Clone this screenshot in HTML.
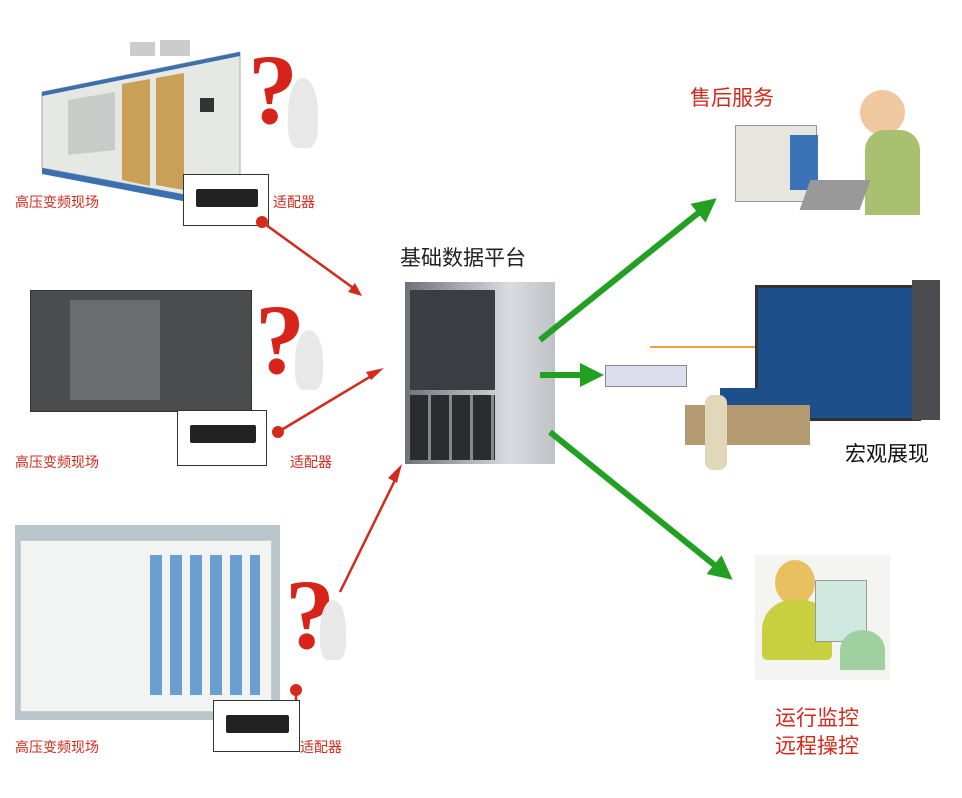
<!DOCTYPE html>
<html><head><meta charset="utf-8">
<style>
body{margin:0;width:962px;height:798px;background:#fff;position:relative;overflow:hidden;font-family:"Liberation Sans","Noto Sans CJK SC",sans-serif}
.a{position:absolute}
.t{position:absolute;color:#d42a1c;font-size:14px;white-space:nowrap}
.big{font-size:21px}
.ad{position:absolute;border:1px solid #333;background:#fff}
.ad div{position:absolute;left:12px;right:10px;top:14px;height:18px;background:#222;border-radius:2px}
.q{position:absolute;color:#d8231a;font-weight:bold;font-family:"Liberation Serif",serif}
.man{position:absolute;background:#e8e8e8;border-radius:50% 50% 30% 30%}
</style></head><body>
<!-- cabinet 1 -->
<svg class="a" style="left:0;top:0" width="330" height="230">
<polygon points="42,92 240,52 240,205 42,168" fill="#e6e8e4" stroke="#aaa"/>
<polygon points="42,168 240,205 240,212 42,174" fill="#3a6fb0"/>
<polygon points="42,92 240,52 240,56 42,96" fill="#3a6fb0"/>
<polygon points="122,84 150,79 150,186 122,180" fill="#c9a055"/>
<polygon points="156,78 184,73 184,190 156,185" fill="#c9a055"/>
<polygon points="68,100 115,92 115,150 68,155" fill="#c8ccc8"/>
<rect x="130" y="42" width="25" height="14" fill="#ccc"/><rect x="160" y="40" width="30" height="16" fill="#ccc"/>
<rect x="200" y="98" width="14" height="14" fill="#333"/>
</svg>
<div class="t" style="left:15px;top:192px">高压变频现场</div>
<div class="ad" style="left:183px;top:174px;width:84px;height:50px"><div></div></div>
<div class="t" style="left:273px;top:192px">适配器</div>
<div class="q" style="left:248px;top:40px;font-size:100px;line-height:100px">?</div>
<div class="man" style="left:288px;top:78px;width:30px;height:70px"></div>
<!-- cabinet 2 -->
<div class="a" style="left:30px;top:290px;width:220px;height:120px;background:#4a4c4e;border:1px solid #333"></div>
<div class="a" style="left:70px;top:300px;width:90px;height:100px;background:#6a6c70"></div>
<div class="t" style="left:15px;top:452px">高压变频现场</div>
<div class="ad" style="left:177px;top:410px;width:88px;height:54px"><div></div></div>
<div class="t" style="left:290px;top:452px">适配器</div>
<div class="q" style="left:255px;top:290px;font-size:100px;line-height:100px">?</div>
<div class="man" style="left:295px;top:330px;width:28px;height:60px"></div>
<!-- cabinet 3 -->
<div class="a" style="left:15px;top:525px;width:265px;height:195px;background:#b8c6cc"></div>
<div class="a" style="left:20px;top:540px;width:250px;height:170px;background:#f2f4f4;border:1px solid #ccc"></div>
<div class="a" style="left:150px;top:555px;width:110px;height:140px;background:repeating-linear-gradient(90deg,#6b9fd0 0 12px,#f2f4f4 12px 20px)"></div>
<div class="t" style="left:15px;top:737px">高压变频现场</div>
<div class="ad" style="left:213px;top:700px;width:85px;height:50px"><div></div></div>
<div class="t" style="left:300px;top:737px">适配器</div>
<div class="q" style="left:285px;top:565px;font-size:100px;line-height:100px">?</div>
<div class="man" style="left:320px;top:600px;width:26px;height:60px"></div>
<!-- server -->
<div class="t big" style="left:400px;top:242px;color:#222">基础数据平台</div>
<div class="a" style="left:405px;top:282px;width:150px;height:182px;background:linear-gradient(90deg,#6d7278,#d9dcdf 70%,#bfc3c7)"></div>
<div class="a" style="left:410px;top:290px;width:85px;height:100px;background:#3a3d42"></div>
<div class="a" style="left:410px;top:395px;width:85px;height:65px;background:repeating-linear-gradient(90deg,#2a2c30 0 18px,#888 18px 21px)"></div>
<!-- right top -->
<div class="t big" style="left:690px;top:82px">售后服务</div>
<div class="a" style="left:735px;top:125px;width:80px;height:75px;background:#e6e6de;border:1px solid #999"></div>
<div class="a" style="left:790px;top:135px;width:28px;height:55px;background:#3a73b8"></div>
<div class="a" style="left:860px;top:90px;width:45px;height:45px;background:#f0c8a0;border-radius:50%"></div>
<div class="a" style="left:865px;top:130px;width:55px;height:85px;background:#a8c070;border-radius:20px 20px 0 0"></div>
<div class="a" style="left:805px;top:180px;width:60px;height:30px;background:#999;transform:skewX(-20deg)"></div>
<!-- video wall -->
<div class="a" style="left:755px;top:285px;width:160px;height:130px;background:#1d4f8a;border:3px solid #333"></div>
<div class="a" style="left:912px;top:280px;width:28px;height:140px;background:#4a4c50"></div>
<div class="a" style="left:605px;top:365px;width:80px;height:20px;background:#dde;border:1px solid #888"></div>
<div class="a" style="left:650px;top:346px;width:105px;height:2px;background:#e9a040"></div>
<div class="a" style="left:720px;top:388px;width:90px;height:22px;background:#1d4f8a"></div>
<div class="a" style="left:685px;top:405px;width:125px;height:40px;background:#b49a70"></div>
<div class="a" style="left:705px;top:395px;width:22px;height:75px;background:#e0d8b8;border-radius:8px"></div>
<div class="t big" style="left:845px;top:438px;color:#111">宏观展现</div>
<!-- bottom right -->
<div class="a" style="left:755px;top:555px;width:135px;height:125px;background:#f4f4f0"></div>
<div class="a" style="left:775px;top:560px;width:40px;height:45px;background:#e8c060;border-radius:50%"></div>
<div class="a" style="left:762px;top:600px;width:70px;height:60px;background:#c8d040;border-radius:30px 30px 5px 5px"></div>
<div class="a" style="left:815px;top:580px;width:50px;height:60px;background:#cfe8e0;border:1px solid #999"></div>
<div class="a" style="left:840px;top:630px;width:45px;height:40px;background:#9ed0a0;border-radius:50% 50% 0 0"></div>
<div class="t big" style="left:775px;top:705px;line-height:28px">运行监控<br>远程操控</div>
<!-- arrows -->
<svg class="a" style="left:0;top:0" width="962" height="798">
<defs>
<marker id="g" markerWidth="24" markerHeight="24" refX="18" refY="12" orient="auto" markerUnits="userSpaceOnUse" viewBox="0 0 24 24"><path d="M0,0L24,12L0,24z" fill="#22a022"/></marker>
</defs>
<g stroke="#d42a1c" stroke-width="2.5" fill="none">
<line x1="262" y1="222" x2="356" y2="290"/>
<line x1="278" y1="432" x2="378" y2="372"/>
<line x1="340" y1="592" x2="398" y2="474"/>
<line x1="296" y1="690" x2="296" y2="700"/>
</g>
<g fill="#d42a1c">
<circle cx="262" cy="222" r="6"/><circle cx="278" cy="432" r="6"/><circle cx="296" cy="690" r="6"/>
<path d="M362,296L348,292L355,283z"/><path d="M384,368L371,380L366,372z"/>
<path d="M402,464L388,478L397,483z"/>
</g>
<g stroke="#22a022" stroke-width="6" fill="none">
<line x1="540" y1="340" x2="712" y2="202" marker-end="url(#g)"/>
<line x1="540" y1="375" x2="598" y2="375" marker-end="url(#g)"/>
<line x1="550" y1="432" x2="728" y2="576" marker-end="url(#g)"/>
</g>
</svg>
</body></html>
